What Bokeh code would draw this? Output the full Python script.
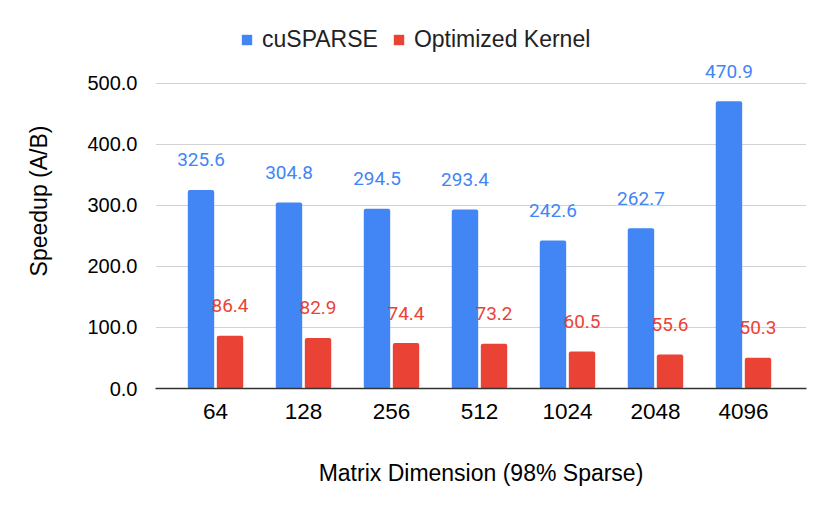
from bokeh.plotting import figure
from bokeh.models import (ColumnDataSource, FixedTicker, NumeralTickFormatter,
                          LabelSet, Legend, LegendItem, Range1d)
from bokeh.core.properties import value
from bokeh.embed import file_html
from bokeh.resources import INLINE

categories = ["64", "128", "256", "512", "1024", "2048", "4096"]
cusparse = [325.6, 304.8, 294.5, 293.4, 242.6, 262.7, 470.9]
optimized = [86.4, 82.9, 74.4, 73.2, 60.5, 55.6, 50.3]
y_ticks = [0, 100, 200, 300, 400, 500]

BLUE = "#4285F4"
RED = "#EA4335"
FONT = "Liberation Sans"

idx = list(range(len(categories)))
src = ColumnDataSource(dict(
    xb=[i - 0.165 for i in idx],
    xr=[i + 0.165 for i in idx],
    blue=cusparse,
    red=optimized,
    blue_txt=[f"{v:.1f}" for v in cusparse],
    red_txt=[f"{v:.1f}" for v in optimized],
))

p = figure(width=830, height=514, output_backend="svg", toolbar_location=None,
           x_range=Range1d(-0.682, 6.716), y_range=Range1d(0, 614.75),
           min_border_left=155, min_border_right=24, min_border_top=13,
           min_border_bottom=126)
p.outline_line_color = None
p.background_fill_color = "white"
p.border_fill_color = "white"

r1 = p.vbar(x="xb", top="blue", width=0.30, source=src, fill_color=BLUE,
            line_color=None, border_radius=2)
r2 = p.vbar(x="xr", top="red", width=0.30, source=src, fill_color=RED,
            line_color=None, border_radius=2)

for col, ycol, txt, color in (("xb", "blue", "blue_txt", BLUE),
                              ("xr", "red", "red_txt", RED)):
    ls = LabelSet(x=col, y=ycol, text=txt, source=src, y_offset=30,
                  text_align="center", text_baseline="middle",
                  text_color=color, text_font=value("Roboto"),
                  text_font_size="19px")
    p.add_layout(ls)

# axes
p.xaxis.ticker = FixedTicker(ticks=idx)
p.xaxis.major_label_overrides = {i: c for i, c in zip(idx, categories)}
p.xaxis.major_tick_line_color = None
p.xaxis.minor_tick_line_color = None
p.xaxis.axis_line_color = "#333333"
p.xaxis.axis_line_width = 1.3
p.xaxis.major_label_standoff = 9
p.xaxis.major_label_text_font = FONT
p.xaxis.major_label_text_font_size = "22.5px"
p.xaxis.major_label_text_color = "#000000"
p.xaxis.axis_label = "Matrix Dimension (98% Sparse)"
p.xaxis.axis_label_text_font = FONT
p.xaxis.axis_label_text_font_size = "23px"
p.xaxis.axis_label_text_font_style = "normal"
p.xaxis.axis_label_text_color = "#000000"
p.xaxis.axis_label_standoff = 38

p.yaxis.ticker = FixedTicker(ticks=y_ticks)
p.yaxis.bounds = (0, 500)
p.yaxis.formatter = NumeralTickFormatter(format="0.0")
p.yaxis.axis_line_color = None
p.yaxis.major_tick_line_color = None
p.yaxis.minor_tick_line_color = None
p.yaxis.major_label_standoff = 12
p.yaxis.major_label_text_font = FONT
p.yaxis.major_label_text_font_size = "20px"
p.yaxis.major_label_text_color = "#000000"
p.yaxis.axis_label = "Speedup (A/B)"
p.yaxis.axis_label_text_font = FONT
p.yaxis.axis_label_text_font_size = "23px"
p.yaxis.axis_label_text_font_style = "normal"
p.yaxis.axis_label_text_color = "#000000"
p.yaxis.axis_label_standoff = 32

p.xgrid.grid_line_color = None
p.ygrid.ticker = FixedTicker(ticks=y_ticks)
p.ygrid.grid_line_color = "#d3d3d3"
p.ygrid.grid_line_width = 1

legend = Legend(items=[LegendItem(label="cuSPARSE", renderers=[r1]),
                       LegendItem(label="Optimized Kernel", renderers=[r2])],
                orientation="horizontal", location=(85, 335),
                border_line_color=None, background_fill_alpha=0,
                padding=0, margin=0, spacing=14, label_standoff=9,
                glyph_width=13, glyph_height=13, label_height=26,
                label_text_font=FONT, label_text_font_size="23px",
                label_text_color="#222222")
p.add_layout(legend, "center")

open("out.html", "w").write(file_html(p, INLINE))
